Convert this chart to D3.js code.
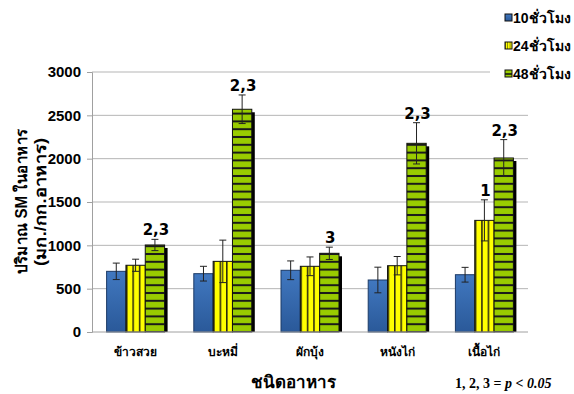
<!DOCTYPE html>
<html>
<head>
<meta charset="utf-8">
<script src="https://cdn.jsdelivr.net/npm/d3@7"></script>
<style>
  html, body { margin: 0; padding: 0; background: #fff; }
  svg { display: block; }
  text { font-family: "Liberation Sans", Arial, "DejaVu Sans", sans-serif; font-weight: bold; fill: #000; }
</style>
</head>
<body>
<svg id="chart" width="574" height="394"></svg>
<script>
// SM content in food by type and storage time
const categories = ["ข้าวสวย", "บะหมี่", "ผักบุ้ง", "หนังไก่", "เนื้อไก่"];
const seriesNames = ["10ชั่วโมง", "24ชั่วโมง", "48ชั่วโมง"];
const values10 = [700, 673, 712, 600, 661];
const errors10 = [95, 85, 108, 148, 85];
const values24 = [770, 815, 758, 765, 1288];
const errors24 = [70, 245, 108, 106, 237];
const values48 = [1004, 2570, 908, 2177, 2008];
const errors48 = [65, 165, 71, 238, 212];
const sigLabels24 = ["", "", "", "", "1"];
const sigLabels48 = ["2,3", "2,3", "3", "2,3", "2,3"];
const yTicks = [0, 500, 1000, 1500, 2000, 2500, 3000];

const seriesValues = [values10, values24, values48];
const seriesErrors = [errors10, errors24, errors48];
const seriesSig = [null, sigLabels24, sigLabels48];

const svg = d3.select("#chart");
const margin = { left: 92, right: 46, top: 72, bottom: 62 };
const W = 574, H = 394;

const x = d3.scaleBand().domain(categories)
  .range([margin.left, W - margin.right])
  .paddingInner(0.335).paddingOuter(0.1675);
const xs = d3.scaleBand().domain(d3.range(seriesNames.length)).range([0, x.bandwidth()]);
const y = d3.scaleLinear().domain([0, 3000]).range([H - margin.bottom, margin.top]);

// fills
const defs = svg.append("defs");
const blueGrad = defs.append("linearGradient").attr("id", "blueGrad")
  .attr("x1", 0).attr("y1", 0).attr("x2", 0).attr("y2", 1);
blueGrad.append("stop").attr("offset", "0%").attr("stop-color", "#4178c0");
blueGrad.append("stop").attr("offset", "100%").attr("stop-color", "#2a5999");

const vStripe = defs.append("pattern").attr("id", "vStripe")
  .attr("patternUnits", "objectBoundingBox").attr("patternContentUnits", "objectBoundingBox")
  .attr("width", 1 / 3).attr("height", 1);
vStripe.append("rect").attr("width", 1).attr("height", 1).attr("fill", "#ffff00");
vStripe.append("rect").attr("width", 0.08).attr("height", 1).attr("fill", "#2b2b10");

const hStripe = defs.append("pattern").attr("id", "hStripe")
  .attr("patternUnits", "userSpaceOnUse")
  .attr("x", 0).attr("y", y(0) % 7.8)
  .attr("width", 10).attr("height", 7.8);
hStripe.append("rect").attr("width", 10).attr("height", 7.8).attr("fill", "#99cc00");
hStripe.append("rect").attr("y", -1).attr("width", 10).attr("height", 2).attr("fill", "#1a1a1a");
hStripe.append("rect").attr("y", 6.8).attr("width", 10).attr("height", 2).attr("fill", "#1a1a1a");

const fills = ["url(#blueGrad)", "url(#vStripe)", "url(#hStripe)"];
const strokes = ["#1c3a66", "#111", "#111"];

// gridlines
svg.append("g").selectAll("line").data(yTicks.filter(d => d > 0)).join("line")
  .attr("x1", margin.left).attr("x2", W - margin.right)
  .attr("y1", d => y(d)).attr("y2", d => y(d))
  .attr("stroke", "#b5b5b5").attr("stroke-width", 1);

// y axis
const yAxis = svg.append("g").attr("transform", `translate(${margin.left},0)`)
  .call(d3.axisLeft(y).tickValues(yTicks).tickFormat(d3.format("d")).tickSize(5).tickPadding(6));
yAxis.select(".domain").attr("stroke", "#a0a0a0");
yAxis.selectAll(".tick line").attr("stroke", "#a0a0a0");
yAxis.selectAll(".tick text").style("font-size", "15px").style("font-family", "'Liberation Sans', Arial, sans-serif").attr("fill", "#000");

// bars
seriesValues.forEach((vals, si) => {
  const g = svg.append("g");
  const rows = categories.map((c, i) => ({ c, v: vals[i], e: seriesErrors[si][i], i }));
  // drop shadow
  g.selectAll("rect.shadow").data(rows).join("rect").attr("class", "shadow")
    .attr("x", d => x(d.c) + xs(si) + 3)
    .attr("y", d => y(d.v) + 3)
    .attr("width", xs.bandwidth())
    .attr("height", d => Math.max(0, y(0) - y(d.v) - 3))
    .attr("fill", "#000");
  g.selectAll("rect.bar").data(rows).join("rect").attr("class", "bar")
    .attr("x", d => x(d.c) + xs(si))
    .attr("y", d => y(d.v))
    .attr("width", xs.bandwidth())
    .attr("height", d => y(0) - y(d.v))
    .attr("fill", fills[si]).attr("stroke", strokes[si]).attr("stroke-width", 1);
});

// error bars on top
seriesValues.forEach((vals, si) => {
  const g = svg.append("g").attr("stroke", "#222").attr("stroke-width", 1);
  categories.forEach((c, i) => {
    const cx = x(c) + xs(si) + xs.bandwidth() / 2;
    const hi = y(vals[i] + seriesErrors[si][i]);
    const lo = y(vals[i] - seriesErrors[si][i]);
    g.append("line").attr("x1", cx).attr("x2", cx).attr("y1", hi).attr("y2", lo);
    g.append("line").attr("x1", cx - 3.5).attr("x2", cx + 3.5).attr("y1", hi).attr("y2", hi);
    g.append("line").attr("x1", cx - 3.5).attr("x2", cx + 3.5).attr("y1", lo).attr("y2", lo);
  });
});

// significance labels
seriesSig.forEach((labels, si) => {
  if (!labels) return;
  categories.forEach((c, i) => {
    if (!labels[i]) return;
    svg.append("text")
      .attr("x", x(c) + xs(si) + xs.bandwidth() / 2 + 1)
      .attr("y", y(seriesValues[si][i] + seriesErrors[si][i]) - 4)
      .attr("text-anchor", "middle")
      .style("font-size", "15px")
      .style("font-family", "'DejaVu Sans', sans-serif")
      .text(labels[i]);
  });
});

// x axis line
svg.append("line").attr("x1", margin.left).attr("x2", W - margin.right)
  .attr("y1", y(0)).attr("y2", y(0)).attr("stroke", "#a0a0a0");

// category labels
svg.append("g").selectAll("text").data(categories).join("text")
  .attr("x", d => x(d) + x.bandwidth() / 2)
  .attr("y", 356)
  .attr("text-anchor", "middle")
  .style("font-size", "12px")
  .text(d => d);

// axis titles
svg.append("text").attr("x", 293).attr("y", 388).attr("text-anchor", "middle")
  .style("font-size", "17px").text("ชนิดอาหาร");

const yTitle = svg.append("g").attr("transform", "translate(0,201) rotate(-90)");
yTitle.append("text").attr("x", 0).attr("y", 27).attr("text-anchor", "middle")
  .attr("textLength", 145).attr("lengthAdjust", "spacingAndGlyphs")
  .style("font-size", "16px").text("ปริมาณ SM ในอาหาร");
yTitle.append("text").attr("x", -1).attr("y", 46).attr("text-anchor", "middle")
  .attr("textLength", 128).attr("lengthAdjust", "spacingAndGlyphs")
  .style("font-size", "16px").text("(มก./กก.อาหาร)");

// significance note
const note = svg.append("text").attr("x", 455).attr("y", 388)
  .style("font-family", "'Liberation Serif', 'Times New Roman', serif")
  .style("font-size", "14px");
note.append("tspan").text("1, 2, 3 = ");
note.append("tspan").style("font-style", "italic").text("p");
note.append("tspan").text(" < ");
note.append("tspan").style("font-style", "italic").text("0.05");

// legend
const legend = svg.append("g");
legend.append("rect").attr("x", 490).attr("y", 0).attr("width", 84).attr("height", 88).attr("fill", "#fff");
const legendY = [17.5, 45.5, 73.5];
seriesNames.forEach((name, si) => {
  legend.append("rect").attr("x", 505).attr("y", legendY[si] - 3.5)
    .attr("width", 7).attr("height", 7)
    .attr("fill", si === 2 ? "#99cc00" : fills[si]).attr("stroke", "#111").attr("stroke-width", 1);
  if (si === 2) {
    legend.append("line").attr("x1", 505).attr("x2", 512).attr("y1", legendY[si] + 0.5).attr("y2", legendY[si] + 0.5)
      .attr("stroke", "#111").attr("stroke-width", 1.5);
  }
  legend.append("text").attr("x", 513).attr("y", legendY[si] + 5)
    .style("font-size", "14px").text(name);
});
</script>
</body>
</html>
